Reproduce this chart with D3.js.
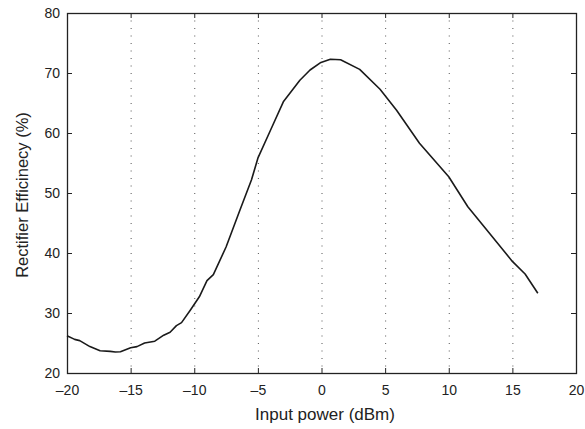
<!DOCTYPE html>
<html>
<head>
<meta charset="utf-8">
<script src="https://cdn.jsdelivr.net/npm/d3@7"></script>
<style>
  body { margin: 0; background: #fff; }
  text { font-family: "Liberation Sans", Arial, sans-serif; fill: #222; }
</style>
</head>
<body>
<svg id="chart" width="585" height="429"></svg>
<script>
// input power (dBm) and efficiency (%)
var power = [-20, -19.4, -19, -18.2, -17.4, -16.6, -16.2, -15.8, -15, -14.5, -13.9, -13.1, -12.4, -11.9, -11.4, -11, -10.3, -9.6, -9, -8.5, -7.5, -6.4, -5.5, -5, -4, -3, -1.7, -0.9, -0.1, 0.7, 1.5, 3, 4.6, 5.9, 7.7, 10, 11.5, 13.2, 15, 16, 17];
var efficiency = [26.2, 25.6, 25.4, 24.4, 23.7, 23.6, 23.5, 23.55, 24.2, 24.4, 25.0, 25.3, 26.3, 26.8, 27.9, 28.4, 30.5, 32.7, 35.4, 36.4, 41, 47.2, 52.2, 55.8, 60.5, 65.2, 68.8, 70.5, 71.7, 72.3, 72.2, 70.6, 67.3, 63.8, 58.3, 52.7, 47.7, 43.3, 38.6, 36.5, 33.3];

var xTicks = [-20, -15, -10, -5, 0, 5, 10, 15, 20];
var yTicks = [20, 30, 40, 50, 60, 70, 80];

var margin = {top: 13, right: 9, bottom: 56, left: 67};
var width = 585 - margin.left - margin.right;
var height = 429 - margin.top - margin.bottom;

var svg = d3.select("#chart");
var g = svg.append("g")
  .attr("transform", "translate(" + margin.left + "," + margin.top + ")");

var x = d3.scaleLinear().domain([-20, 20]).range([0, width]);
var y = d3.scaleLinear().domain([20, 80]).range([height, 0]);

var fmt = function(d) { return d < 0 ? "\u2013" + Math.abs(d) : d; };

// dotted vertical grid
g.selectAll(".grid")
  .data(xTicks.slice(1, -1))
  .enter()
  .append("line")
  .attr("class", "grid")
  .attr("x1", function(d) { return x(d) + 0.5; })
  .attr("x2", function(d) { return x(d) + 0.5; })
  .attr("y1", 0)
  .attr("y2", height)
  .attr("stroke", "#555")
  .attr("stroke-width", 1)
  .attr("stroke-dasharray", "1,6.5");

// axes with inward ticks
var xBottom = g.append("g")
  .attr("transform", "translate(0," + height + ")")
  .call(d3.axisBottom(x).tickValues(xTicks).tickSizeInner(-5).tickSizeOuter(0).tickPadding(12).tickFormat(fmt));
var xTop = g.append("g")
  .call(d3.axisTop(x).tickValues(xTicks).tickSizeInner(-5).tickSizeOuter(0).tickFormat(""));
var yLeft = g.append("g")
  .call(d3.axisLeft(y).tickValues(yTicks).tickSizeInner(-5).tickSizeOuter(0).tickPadding(7).tickFormat(fmt));
var yRight = g.append("g")
  .attr("transform", "translate(" + width + ",0)")
  .call(d3.axisRight(y).tickValues(yTicks).tickSizeInner(-5).tickSizeOuter(0).tickFormat(""));

[xBottom, xTop, yLeft, yRight].forEach(function(a) {
  a.select(".domain").remove();
  a.selectAll("line").attr("stroke", "#222");
  a.selectAll("text").style("font-size", "14px").attr("fill", "#222")
    .style("font-family", "'Liberation Sans', Arial, sans-serif");
});

// frame
g.append("rect")
  .attr("x", 0.5)
  .attr("y", 0.5)
  .attr("width", width)
  .attr("height", height)
  .attr("fill", "none")
  .attr("stroke", "#222")
  .attr("stroke-width", 1.3);

// curve
var line = d3.line()
  .x(function(d, i) { return x(power[i]); })
  .y(function(d) { return y(d); });

g.append("path")
  .datum(efficiency)
  .attr("d", line)
  .attr("fill", "none")
  .attr("stroke", "#1a1a1a")
  .attr("stroke-width", 1.6)
  .attr("stroke-linejoin", "round");

// axis titles
svg.append("text")
  .attr("x", 325)
  .attr("y", 420)
  .attr("text-anchor", "middle")
  .style("font-size", "17px")
  .text("Input power (dBm)");

svg.append("text")
  .attr("transform", "translate(28,195) rotate(-90)")
  .attr("text-anchor", "middle")
  .style("font-size", "16.5px")
  .text("Rectifier Efficinecy (%)");
</script>
</body>
</html>
